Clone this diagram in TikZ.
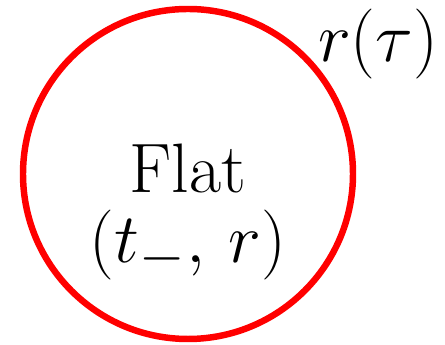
\documentclass[tikz,border=0pt]{standalone}
\usepackage{amsmath,amssymb}
\usepackage{xcolor}
\usetikzlibrary{positioning}
\definecolor{ringc}{HTML}{FF0000}
\tikzset{
  ring/.style={draw=ringc,line width=2.3pt},
  lbl/.style={font=\Huge,inner sep=0pt,anchor=base}
}
\begin{document}
\begin{tikzpicture}[x=0.3554pt,y=0.3554pt]
\useasboundingbox (0,0) rectangle (445,345);
\coordinate (o) at (188,171);
\draw[ring] (o) circle (165);
\node[lbl] (flat) at (188,152) {Flat};
\node[lbl] (coords) at (188,82) {$(t_-,\, r)$};
\node[lbl] (rad) at (378,283) {$r(\tau)$};
\end{tikzpicture}
\end{document}
